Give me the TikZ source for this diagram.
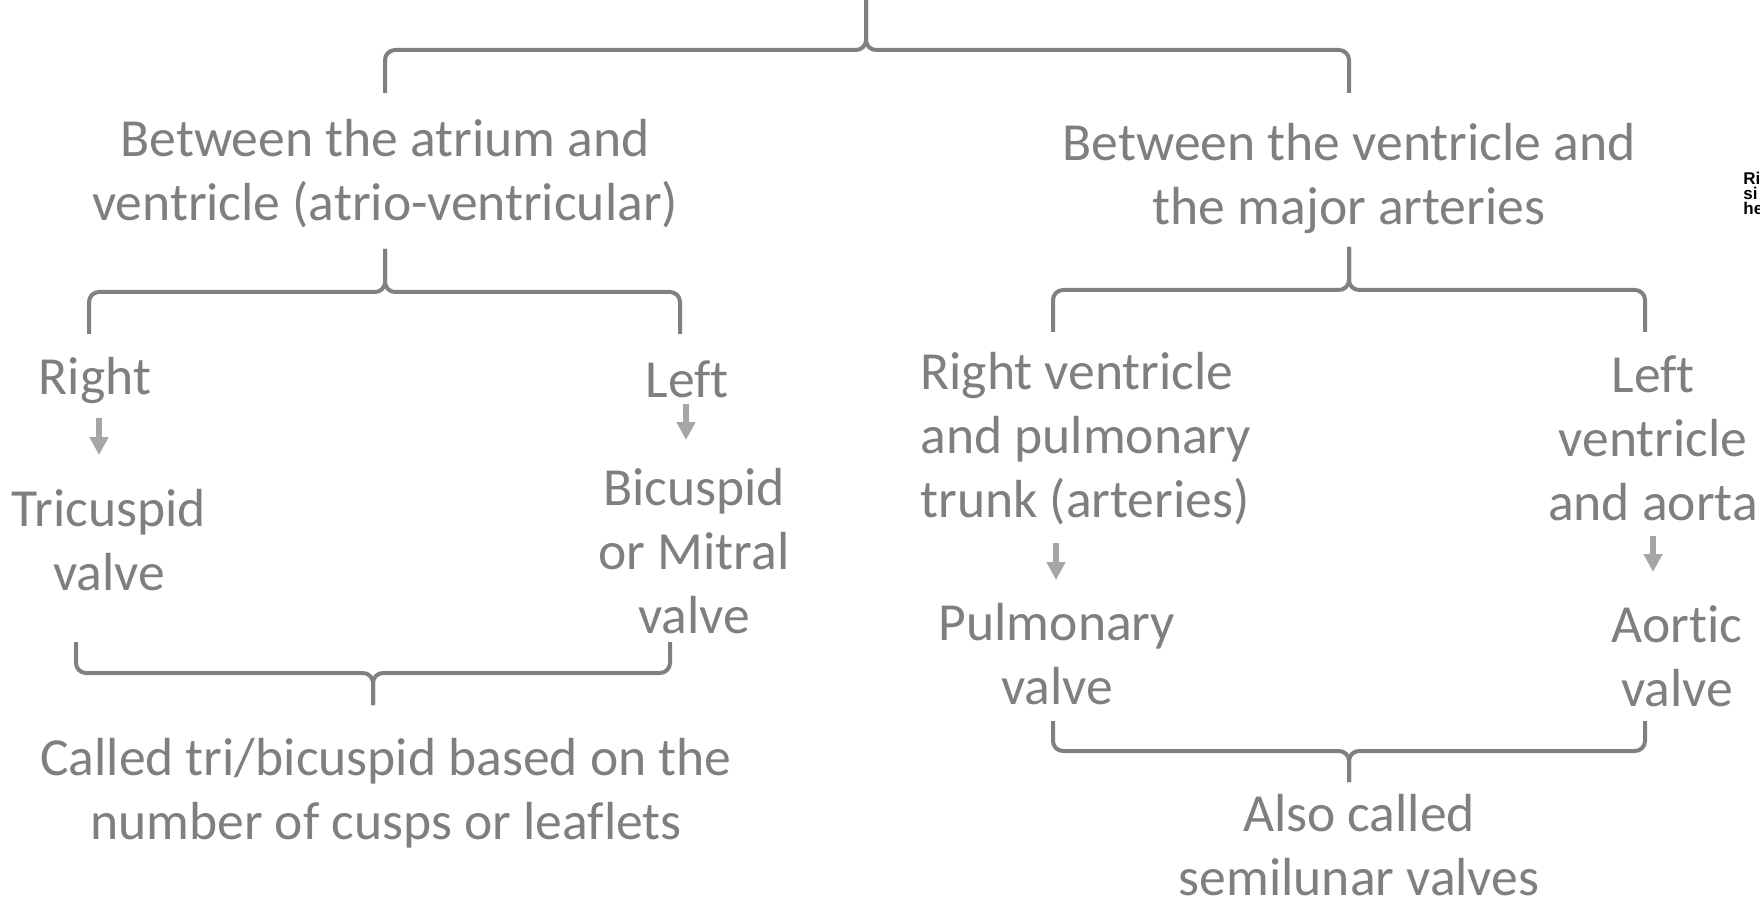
\documentclass[tikz,border=0pt]{standalone}
\usepackage{fontspec}
\setmainfont{Carlito}[Ligatures=NoCommon]
\newfontfamily\notefont{Liberation Sans}
\usetikzlibrary{arrows.meta,positioning}
\definecolor{textgray}{HTML}{7F7F7F}
\definecolor{bracegray}{HTML}{808080}
\definecolor{arrowgray}{HTML}{A6A6A6}
\tikzset{
      txt/.style = {text=textgray, font=\fontsize{26.8}{32}\selectfont, align=center, inner sep=0pt},
      note/.style = {font=\notefont\bfseries\fontsize{8.5}{7.4}\selectfont, align=left, inner sep=0pt},
      bracket/.style = {draw=bracegray, line width=2pt, rounded corners=5pt},
      valvearrow/.style = {arrowgray, line width=3pt, -{Triangle[width=9pt,length=9pt]}},
    }

\begin{document}
\begin{tikzpicture}[x=0.5pt,y=-0.5pt]
        \useasboundingbox (0,0) rectangle (1760,898);
        \fill[white] (0,0) rectangle (1760,898);
        \clip (0,0) rectangle (1760,898);

        \node [txt] (av)    at (385,174)  {Between the atrium and\\ventricle (atrio-ventricular)};
        \node [txt] (va)    at (1349,178) {Between the ventricle and\\the major arteries};
        \node [txt] (right) at (95,380)   {Right};
        \node [txt] (tri)   at (109,540)  {Tricuspid\\valve};
        \node [txt] (left)  at (687,379)  {Left};
        \node [txt] (bi)    at (694,551)  {Bicuspid\\or Mitral\\valve};
        \node [txt] (cusps) at (386,793)  {Called tri/bicuspid based on the\\number of cusps or leaflets};
        \node [txt, align=left, anchor=west] (rvpt) at (920,439) {Right ventricle\\and pulmonary\\trunk (arteries)};
        \node [txt] (pulm)  at (1057,654) {Pulmonary\\valve};
        \node [txt] (lva)   at (1653,438) {Left\\ventricle\\and aorta};
        \node [txt] (aort)  at (1677,656) {Aortic\\valve};
        \node [txt] (semi)  at (1359,845) {Also called\\semilunar valves};
        \node [note, anchor=north west] (side) at (1743,172) {Ri\\si\\he};

        \coordinate (b0l) at (385,93);   \coordinate (b0r) at (1349,93);
        \coordinate (b0m) at (866,50);   \coordinate (b0t) at (866,0);
        \coordinate (b1l) at (89,334);   \coordinate (b1r) at (680,334);
        \coordinate (b1m) at (385,292);  \coordinate (b1t) at (385,249);
        \coordinate (b2l) at (1053,332); \coordinate (b2r) at (1645,332);
        \coordinate (b2m) at (1349,290); \coordinate (b2t) at (1349,247);
        \coordinate (b3l) at (76,642);   \coordinate (b3r) at (670,642);
        \coordinate (b3m) at (373,673);  \coordinate (b3t) at (373,705);
        \coordinate (b4l) at (1053,721); \coordinate (b4r) at (1645,721);
        \coordinate (b4m) at (1349,751); \coordinate (b4t) at (1349,782);

        \foreach \b in {b0,b1,b2,b3,b4} {
            \draw [bracket] (\b l) |- (\b m) -- (\b t);
            \draw [bracket] (\b r) |- (\b m) -- (\b t);
        }

        \coordinate (a1s) at (99,418);   \coordinate (a1e) at (99,455);
        \coordinate (a2s) at (686,404);  \coordinate (a2e) at (686,440);
        \coordinate (a3s) at (1056,543); \coordinate (a3e) at (1056,580);
        \coordinate (a4s) at (1653,536); \coordinate (a4e) at (1653,572);

        \foreach \a in {a1,a2,a3,a4}
            \draw [valvearrow] (\a s) -- (\a e);
    \end{tikzpicture}
\end{document}
